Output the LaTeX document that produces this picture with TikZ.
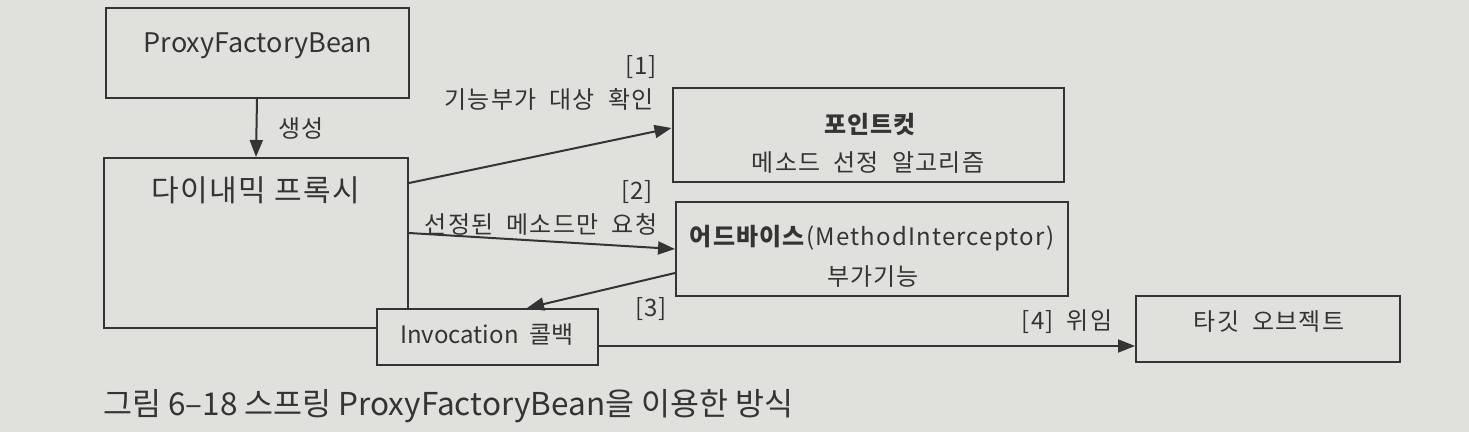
\documentclass[tikz,border=0pt]{standalone}
\usepackage{fontspec}
\setmainfont{Noto Sans CJK KR}[LetterSpace=5,WordSpace=2.0]
\newfontfamily\plainf{Noto Sans CJK KR}
\newfontfamily\bigf{Noto Sans CJK KR}[LetterSpace=5]
\usetikzlibrary{arrows.meta,calc}
\definecolor{paper}{RGB}{224,224,221}
\definecolor{ink}{RGB}{52,52,52}
\begin{document}
\begin{tikzpicture}[x=1pt,y=-1pt,
  box/.style={draw=ink, line width=2pt, fill=paper, text=ink, inner sep=0pt, align=center},
  arr/.style={draw=ink, line width=2pt, -{Triangle[length=17pt,width=13pt]}},
  lbl/.style={text=ink, inner sep=0pt, font=\fontsize{24}{28}\selectfont},
]
\fill[paper] (0,0) rectangle (1469,432);
\useasboundingbox (0,0) rectangle (1469,432);

% boxes
\node[box, minimum width=303pt, minimum height=90pt] (pfb) at (257,53) {};
\node[lbl, font=\plainf\fontsize{27}{30}\selectfont] (pfbt) at (258,46) {ProxyFactoryBean};

\node[box, minimum width=304pt, minimum height=170pt] (proxy) at (256,243) {};
\node[lbl, font=\bigf\fontsize{30}{34}\selectfont] (proxyt) at (256,190) {다이내믹 프록시};

\node[box, minimum width=221pt, minimum height=56pt] (inv) at (487,337) {};
\node[lbl, font=\plainf\fontsize{24}{28}\selectfont] (invt) at (487,335) {Invocation\hspace{11pt}콜백};

\node[box, minimum width=391pt, minimum height=94pt] (pc) at (868,135) {};
\node[lbl] (pct1) at (870,124) {\bfseries 포인트컷};
\node[lbl] (pct2) at (868,163) {메소드 선정 알고리즘};

\node[box, minimum width=392pt, minimum height=94pt] (adv) at (872,249) {};
\node[lbl] (advt1) at (872,238) {\textbf{어드바이스}(MethodInterceptor)};
\node[lbl] (advt2) at (873,277) {부가기능};

\node[box, minimum width=264pt, minimum height=66pt] (tgt) at (1268,329) {};
\node[lbl] (tgtt) at (1269,322) {타깃 오브젝트};

% helper coordinates
\coordinate (y1s) at (0,183);
\coordinate (y1e) at (0,128);
\coordinate (y2s) at (0,233);
\coordinate (y2e) at (0,249);
\coordinate (y3s) at (0,273);
\coordinate (x3e) at (527,0);
\coordinate (y4) at (0,346);

% connectors
\draw[arr] (pfb.south) -- (proxy.north);
\node[lbl, anchor=west] (l0) at (278,128) {생성};

\draw[arr] (proxy.east |- y1s) -- (pc.west |- y1e);
\node[lbl] (l1a) at (641,67) {[1]};
\node[lbl] (l1b) at (549,99) {기능부가 대상 확인};

\draw[arr] (proxy.east |- y2s) -- (adv.west |- y2e);
\node[lbl] (l2a) at (637,192) {[2]};
\node[lbl] (l2b) at (541,224) {선정된 메소드만 요청};

\draw[arr] (adv.west |- y3s) -- (x3e |- inv.north);
\node[lbl] (l3) at (651,309) {[3]};

\draw[arr] (inv.east |- y4) -- (tgt.west |- y4);
\node[lbl] (l4) at (1067,322) {[4] 위임};

% caption
\node[text=ink, anchor=west, inner sep=0pt, font=\plainf\fontsize{31.5}{34}\selectfont] (cap) at (103,406) {그림 6–18 스프링 ProxyFactoryBean을 이용한 방식};
\end{tikzpicture}
\end{document}
